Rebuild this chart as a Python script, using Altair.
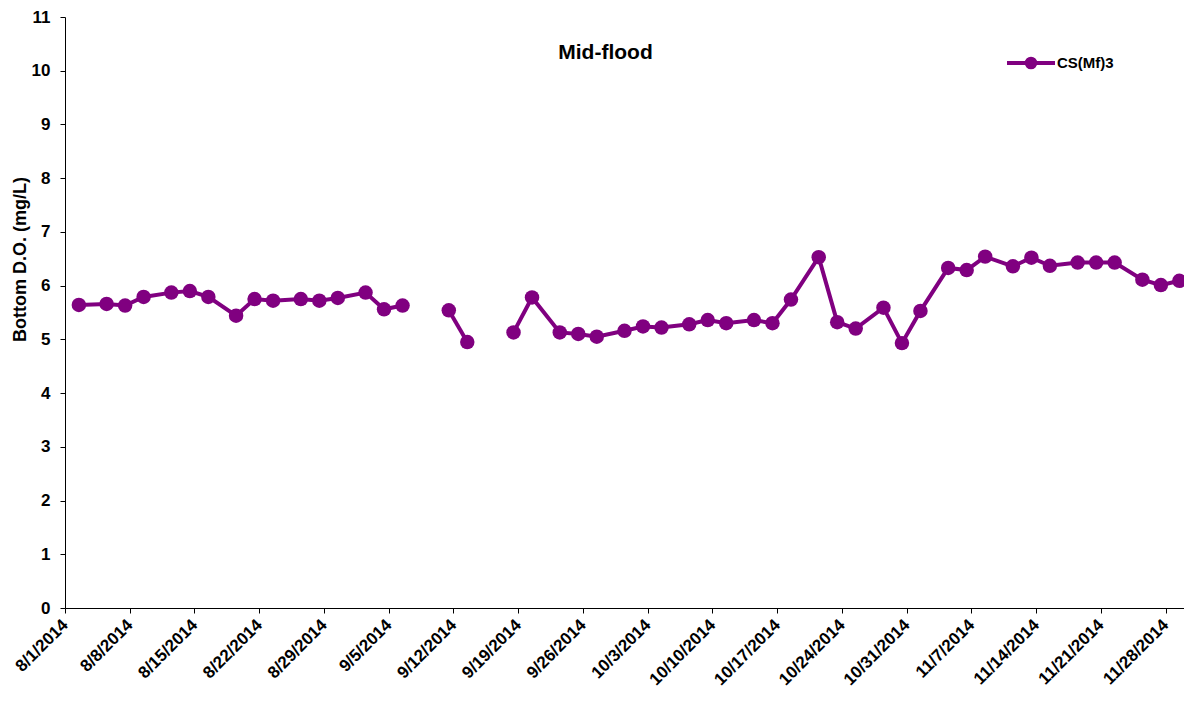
import altair as alt
import pandas as pd

# sampling days (points sit in the middle of the day, as on an Excel date axis)
dates = [
    "2014-08-02", "2014-08-05", "2014-08-07", "2014-08-09", "2014-08-12", "2014-08-14",
    "2014-08-16", "2014-08-19", "2014-08-21", "2014-08-23", "2014-08-26", "2014-08-28",
    "2014-08-30", "2014-09-02", "2014-09-04", "2014-09-06",
    "2014-09-11", "2014-09-13",
    "2014-09-18", "2014-09-20", "2014-09-23", "2014-09-25", "2014-09-27", "2014-09-30",
    "2014-10-02", "2014-10-04", "2014-10-07", "2014-10-09", "2014-10-11", "2014-10-14",
    "2014-10-16", "2014-10-18", "2014-10-21", "2014-10-23", "2014-10-25", "2014-10-28",
    "2014-10-30", "2014-11-01", "2014-11-04", "2014-11-06", "2014-11-08", "2014-11-11",
    "2014-11-13", "2014-11-15", "2014-11-18", "2014-11-20", "2014-11-22", "2014-11-25",
    "2014-11-27", "2014-11-29",
]
do_values = [
    5.64, 5.66, 5.63, 5.79, 5.87, 5.90, 5.79, 5.44, 5.75, 5.72, 5.75, 5.72, 5.77, 5.87, 5.56, 5.63,
    5.54, 4.95,
    5.13, 5.78, 5.13, 5.10, 5.05, 5.16, 5.24, 5.22, 5.28, 5.36, 5.30, 5.36, 5.30, 5.74,
    6.53, 5.32, 5.20, 5.59, 4.93, 5.53, 6.33, 6.29, 6.54, 6.36, 6.52, 6.37, 6.43, 6.43,
    6.43, 6.11, 6.01, 6.09,
]
# line breaks where samples are missing
segment = [1] * 16 + [2] * 2 + [3] * 32

tick_dates = [
    "2014-08-01", "2014-08-08", "2014-08-15", "2014-08-22", "2014-08-29", "2014-09-05",
    "2014-09-12", "2014-09-19", "2014-09-26", "2014-10-03", "2014-10-10", "2014-10-17",
    "2014-10-24", "2014-10-31", "2014-11-07", "2014-11-14", "2014-11-21", "2014-11-28",
]
y_ticks = list(range(0, 12))

df = pd.DataFrame({
    "date": [d + "T12:00:00" for d in dates],
    "value": do_values,
    "seg": segment,
    "series": "CS(Mf)3",
})

purple = "#800080"
font = "Liberation Sans"

legend_path = ("M-1,0L1,0M0.18,0A0.18,0.18,0,1,1,-0.18,0"
               "A0.18,0.18,0,1,1,0.18,0Z")

x_enc = alt.X(
    "date:T",
    scale=alt.Scale(domain=["2014-08-01T00:00:00", "2014-11-30T00:00:00"]),
    axis=alt.Axis(
        title=None,
        values=[d + "T00:00:00" for d in tick_dates],
        format="%-m/%-d/%Y",
        labelAngle=-45,
        labelAlign="right",
        labelBaseline="middle",
        labelFontSize=17,
        labelPadding=9,
        labelOverlap=False,
        labelFlush=False,
        grid=False,
    ),
)
y_enc = alt.Y(
    "value:Q",
    scale=alt.Scale(domain=[0, 11], nice=False),
    axis=alt.Axis(
        title="Bottom D.O. (mg/L)",
        values=y_ticks,
        labelFontSize=17,
        labelPadding=10,
        titleFontSize=18,
        titleAngle=-90,
        titleBaseline="middle",
        titleX=-45,
        titleY=242,
        grid=False,
    ),
)
color_enc = alt.Color(
    "series:N",
    scale=alt.Scale(range=[purple]),
    legend=alt.Legend(
        title=None,
        orient="none",
        legendX=940,
        legendY=20,
        symbolType=legend_path,
        symbolSize=2304,
        symbolStrokeWidth=4,
        symbolStrokeColor=purple,
        symbolFillColor=purple,
        labelFontSize=15,
        labelFont=font,
        labelFontWeight="bold",
        labelOffset=0,
    ),
)

line = alt.Chart(df).mark_line(strokeWidth=4).encode(
    x=x_enc, y=y_enc, color=color_enc, detail="seg:N"
)
points = alt.Chart(df).mark_circle(size=210, opacity=1).encode(
    x=x_enc, y=y_enc, color=color_enc
)

chart = alt.layer(line, points).properties(
    width=1119,
    height=591,
    autosize=alt.AutoSizeParams(type="none"),
    padding={"left": 57, "top": 9, "right": 0, "bottom": 85},
    title=alt.TitleParams(
        "Mid-flood",
        anchor="middle",
        baseline="top",
        offset=0,
        dx=-19,
        dy=55,
        fontSize=21,
        font=font,
        fontWeight="bold",
    ),
).configure_view(
    stroke=None
).configure_axis(
    labelFont=font,
    labelFontWeight="bold",
    labelColor="black",
    titleFont=font,
    titleFontWeight="bold",
    titleColor="black",
    domainColor="black",
    tickColor="black",
    tickSize=5,
)

chart.save("out.html", embed_options={"renderer": "svg", "actions": False})
